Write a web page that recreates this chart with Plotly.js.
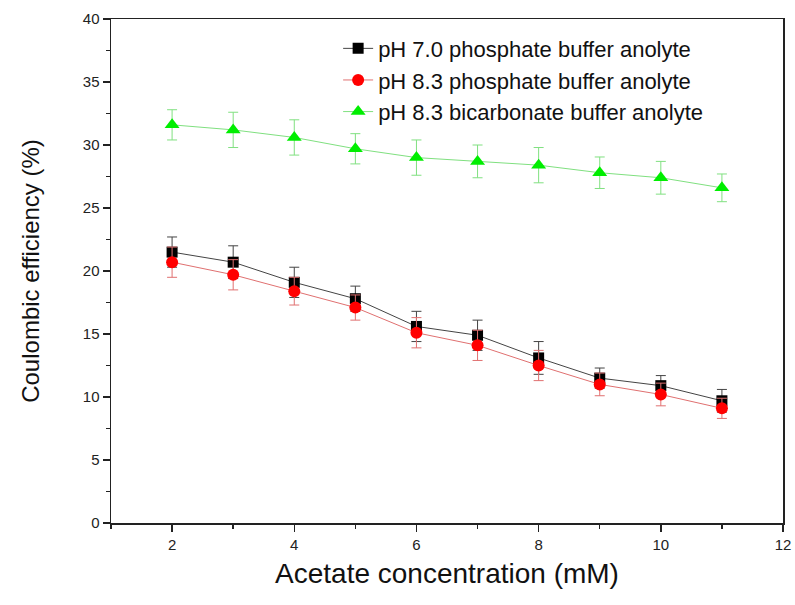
<!DOCTYPE html>
<html>
<head>
<meta charset="utf-8">
<script src="https://cdn.plot.ly/plotly-3.0.1.min.js"></script>
<style>html,body{margin:0;padding:0;background:#fff;}#chart{width:795px;height:605px;}</style>
</head>
<body>
<div id="chart"></div>
<script>
var concentration = [2, 3, 4, 5, 6, 7, 8, 9, 10, 11];
var ph70Phosphate = [21.5, 20.7, 19.1, 17.8, 15.6, 14.9, 13.1, 11.5, 10.9, 9.7];
var ph70Err = [1.2, 1.3, 1.2, 1.0, 1.2, 1.2, 1.3, 0.8, 0.8, 0.9];
var ph83Phosphate = [20.7, 19.7, 18.4, 17.1, 15.1, 14.1, 12.5, 11.0, 10.2, 9.1];
var ph83Err = [1.2, 1.2, 1.1, 1.0, 1.2, 1.2, 1.2, 0.9, 0.9, 0.8];
var ph83Bicarbonate = [31.6, 31.2, 30.6, 29.7, 29.0, 28.7, 28.4, 27.8, 27.4, 26.6];
var bicarbErr = [1.2, 1.4, 1.4, 1.2, 1.4, 1.3, 1.4, 1.25, 1.3, 1.1];
var seriesNames = ["pH 7.0 phosphate buffer anolyte", "pH 8.3 phosphate buffer anolyte", "pH 8.3 bicarbonate buffer anolyte"];

function mk(y, err, name, lineColor, markerColor, symbol, size) {
  return {
    x: concentration, y: y, name: name, type: 'scatter', mode: 'lines+markers',
    line: {color: lineColor, width: 1},
    marker: {color: markerColor, symbol: symbol, size: size},
    error_y: {type: 'data', array: err, visible: true, color: lineColor, thickness: 1, width: 5}
  };
}

var data = [
  mk(ph70Phosphate, ph70Err, seriesNames[0], '#444444', '#000000', 'square', 11),
  mk(ph83Phosphate, ph83Err, seriesNames[1], '#e07070', '#ff0000', 'circle', 12),
  mk(ph83Bicarbonate, bicarbErr, seriesNames[2], '#80e080', '#00ee00', 'triangle-up', 13)
];

var layout = {
  width: 795, height: 605,
  margin: {l: 111, r: 12, t: 19, b: 82},
  paper_bgcolor: '#fff', plot_bgcolor: '#fff',
  font: {family: 'Liberation Sans, Arial, sans-serif', color: '#111'},
  showlegend: true,
  legend: {x: 0.338, y: 0.983, xanchor: 'left', yanchor: 'top', bgcolor: 'rgba(0,0,0,0)',
    font: {size: 22, color: '#111'}, tracegroupgap: 0, itemwidth: 30},
  xaxis: {
    range: [1, 12], tick0: 2, dtick: 2, ticks: 'outside', ticklen: 7, tickwidth: 1.5, tickcolor: '#222',
    minor: {dtick: 1, ticks: 'outside', ticklen: 4, tickwidth: 1.5, tickcolor: '#222'},
    showline: true, linecolor: '#222', linewidth: 1.5, mirror: true, showgrid: false, zeroline: false,
    tickfont: {size: 15, color: '#222'},
    title: {text: 'Acetate concentration (mM)', font: {size: 28, color: '#111'}, standoff: 12}
  },
  yaxis: {
    range: [0, 40], dtick: 5, ticks: 'outside', ticklen: 7, tickwidth: 1.5, tickcolor: '#222',
    minor: {dtick: 2.5, ticks: 'outside', ticklen: 4, tickwidth: 1.5, tickcolor: '#222'},
    showline: true, linecolor: '#222', linewidth: 1.5, mirror: true, showgrid: false, zeroline: false,
    tickfont: {size: 15, color: '#222'},
    title: {text: 'Coulombic efficiency (%)', font: {size: 24, color: '#111'}, standoff: 36}
  }
};

Plotly.newPlot('chart', data, layout, {displayModeBar: false, staticPlot: true});
</script>
</body>
</html>
